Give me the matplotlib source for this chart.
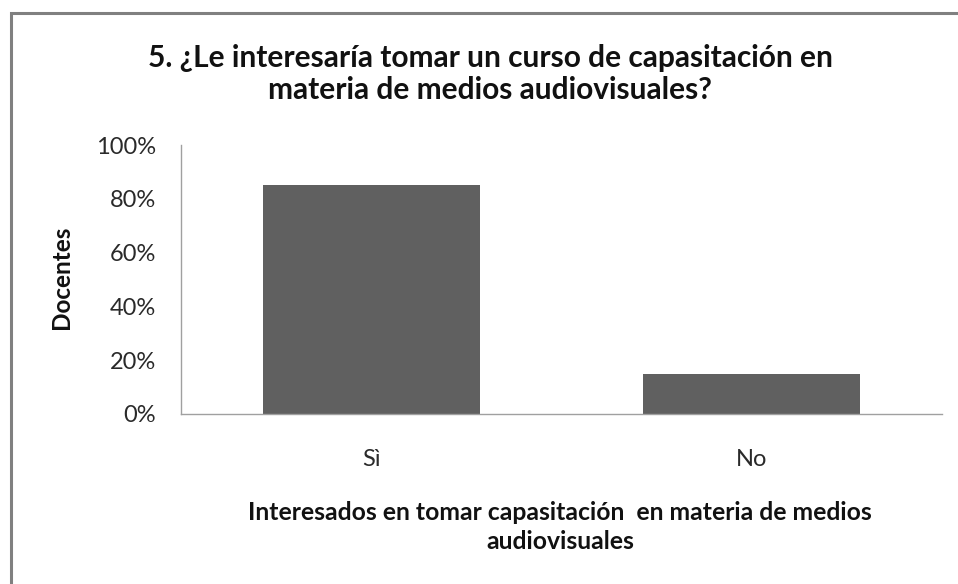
import matplotlib
matplotlib.use("Agg")
import matplotlib.pyplot as plt
from matplotlib.patches import Rectangle
from matplotlib.ticker import FuncFormatter

categories = ["Sì", "No"]
values = [85, 15]
yticks = [0, 20, 40, 60, 80, 100]

plt.rcParams['font.family'] = ['Lato', 'DejaVu Sans']

fig = plt.figure(figsize=(9.58, 5.84), dpi=100)
fig.patch.set_facecolor("white")

# outer chart border (extends past right/bottom edges)
fig.patches.append(Rectangle((11/958, -0.05), 1.1, 1 - 13/584 + 0.05,
                             transform=fig.transFigure, fill=False,
                             edgecolor="#808080", linewidth=2.2))

ax = fig.add_axes([181/958, 1 - 414/584, (942 - 181)/958, (414 - 145)/584])
x = range(len(categories))
ax.bar(x, values, width=0.57, color="#606060")
ax.set_xlim(-0.5, 1.5)
ax.set_ylim(0, 100)
ax.set_yticks(yticks)
ax.yaxis.set_major_formatter(FuncFormatter(lambda v, p: f"{int(v)}%"))
ax.set_xticks(list(x))
ax.set_xticklabels(categories)
for s in ["top", "right"]:
    ax.spines[s].set_visible(False)
for s in ["left", "bottom"]:
    ax.spines[s].set_color("#a0a0a0")
    ax.spines[s].set_linewidth(1.0)
ax.tick_params(axis="both", length=0, labelsize=17)
ax.tick_params(axis="y", pad=18)
ax.tick_params(axis="x", pad=25)
for lab in ax.get_yticklabels() + ax.get_xticklabels():
    lab.set_color("#2a2a2a")

fig.text(490/958, 1 - 74/584, "5. ¿Le interesaría tomar un curso de capasitación en\nmateria de medios audiovisuales?",
         ha="center", va="center", fontsize=21.5, fontweight="bold", linespacing=1.2, color="#111111")
fig.text(62/958, 1 - 277/584, "Docentes", rotation=90, ha="center", va="center",
         fontsize=17.5, fontweight="bold", color="#111111")
fig.text(560/958, 1 - 527/584, "Interesados en tomar capasitación  en materia de medios\naudiovisuales",
         ha="center", va="center", fontsize=17.8, fontweight="bold", linespacing=1.35, color="#111111")

fig.savefig("out.png", dpi=100)
